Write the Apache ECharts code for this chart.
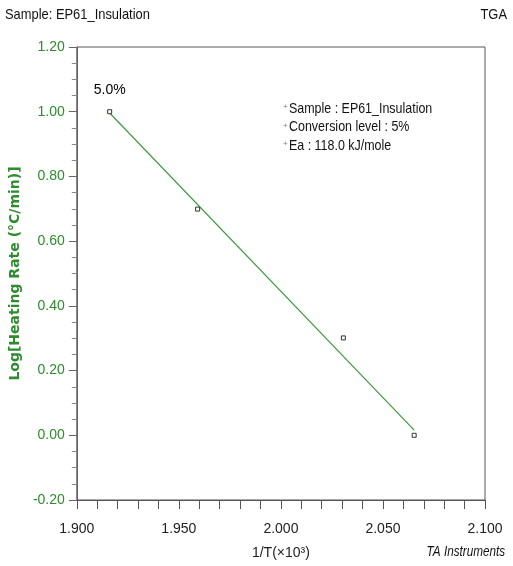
<!DOCTYPE html>
<html>
<head>
<meta charset="utf-8">
<script src="https://cdn.jsdelivr.net/npm/echarts@6/dist/echarts.min.js"></script>
<style>
  html, body { margin: 0; padding: 0; background: #fff; }
  #chart { width: 513px; height: 566px; }
</style>
</head>
<body>
<div id="chart"></div>
<script>
// Reciprocal temperature (1/T ×10³) at 5% conversion, one per heating rate
const invTemp = [1.9161, 1.9592, 2.0306, 2.0653];
// log10 of heating rate (10, 5, 2, 1 °C/min)
const logRate = [1.000, 0.699, 0.301, 0.000];
// Ends of the fitted line
const fitX = [1.9161, 2.0653];
const fitY = [0.996, 0.016];
// Axis ranges
const xTicks = { min: 1.9, max: 2.1, step: 0.05 };
const yTicks = { min: -0.2, max: 1.2, step: 0.2 };
// Annotation lines
const infoLines = ['Sample : EP61_Insulation', 'Conversion level : 5%', 'Ea : 118.0 kJ/mole'];
const pointLabel = '5.0%';

const FONT = '"Liberation Sans", Arial, sans-serif';
const GREEN = '#2e8b2e';
const AXIS = '#555';

const points = invTemp.map((x, i) => [x, logRate[i]]);
const fitLine = fitX.map((x, i) => [x, fitY[i]]);

// condensed text: a regular face squeezed horizontally around its anchor
function narrowText(text, x, y, size, opts) {
  opts = opts || {};
  return {
    type: 'text', x: x, y: y, originX: 0, originY: 0,
    scaleX: opts.scale || 0.84,
    style: {
      text: text,
      font: (opts.italic ? 'italic ' : '') + size + 'px ' + FONT,
      fill: opts.fill || '#111',
      align: opts.align || 'left', verticalAlign: 'top'
    }
  };
}

const chart = echarts.init(document.getElementById('chart'), null, { renderer: 'canvas' });

const infoGraphics = [];
infoLines.forEach((t, i) => {
  infoGraphics.push(narrowText('+', 283, 103 + i * 18.5, 8, { fill: '#777', scale: 1 }));
  infoGraphics.push(narrowText(t, 289, 101 + i * 18.5, 15, { scale: 0.83 }));
});

chart.setOption({
  animation: false,
  backgroundColor: '#fff',
  grid: {
    left: 76, top: 47, right: 28, bottom: 66,
    show: true, borderColor: AXIS, borderWidth: 1, backgroundColor: 'transparent'
  },
  graphic: [
    narrowText('Sample: EP61_Insulation', 5, 7, 15, { scale: 0.86 }),
    narrowText('TGA', 507, 7, 15, { align: 'right', scale: 0.86 }),
    narrowText('TA Instruments', 505, 544, 15, { align: 'right', italic: true, scale: 0.78 }),
    ...infoGraphics
  ],
  xAxis: {
    type: 'value',
    min: xTicks.min, max: xTicks.max, interval: xTicks.step,
    name: '1/T(×10³)', nameLocation: 'middle', nameGap: 46,
    nameTextStyle: { fontFamily: FONT, fontSize: 14, color: '#222' },
    axisLine: { show: true, onZero: false, lineStyle: { color: AXIS, width: 1.2 } },
    axisTick: { show: true, inside: false, length: 9, lineStyle: { color: '#555', width: 1 } },
    minorTick: { show: true, splitNumber: 5, length: 9, lineStyle: { color: '#555', width: 1 } },
    axisLabel: {
      fontFamily: FONT, fontSize: 14, color: '#222', margin: 22,
      formatter: v => v.toFixed(3)
    },
    splitLine: { show: false }
  },
  yAxis: {
    type: 'value',
    min: yTicks.min, max: yTicks.max, interval: yTicks.step,
    name: 'Log[Heating Rate (°C/min)]', nameLocation: 'middle', nameGap: 51,
    nameRotate: 90,
    nameTextStyle: { fontFamily: '"DejaVu Sans", Verdana, sans-serif', fontSize: 14, fontWeight: 'bold', color: GREEN },
    axisLine: { show: true, onZero: false, lineStyle: { color: GREEN, width: 1 } },
    axisTick: { show: true, inside: false, length: 8, lineStyle: { color: '#666' } },
    minorTick: { show: true, splitNumber: 4, length: 5, lineStyle: { color: '#888' } },
    axisLabel: {
      fontFamily: FONT, fontSize: 14, color: GREEN, margin: 12,
      formatter: v => v.toFixed(2)
    },
    splitLine: { show: false }
  },
  series: [
    {
      type: 'line',
      data: fitLine,
      symbol: 'none',
      lineStyle: { color: '#3f9a3f', width: 1.2 },
      z: 2
    },
    {
      type: 'scatter',
      data: points,
      symbol: 'rect',
      symbolSize: 4,
      itemStyle: { color: '#fff', borderColor: '#333', borderWidth: 1, opacity: 1 },
      label: {
        show: true,
        formatter: p => (p.dataIndex === 0 ? pointLabel : ''),
        position: 'top', distance: 12,
        fontFamily: FONT, fontSize: 14, color: '#000', opacity: 1
      },
      emphasis: { disabled: true },
      z: 3
    }
  ]
});
</script>
</body>
</html>
